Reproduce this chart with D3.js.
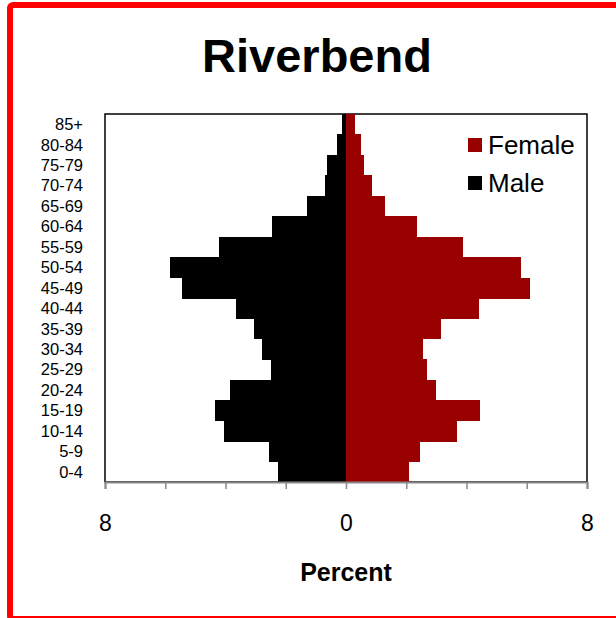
<!DOCTYPE html>
<html>
<head>
<meta charset="utf-8">
<script src="https://cdn.jsdelivr.net/npm/d3@7"></script>
<style>
  body { margin: 0; background: #fff; }
  svg { display: block; font-family: "Liberation Sans", Arial, sans-serif; }
</style>
</head>
<body>
<div id="chart"></div>
<script>
// Age groups, top to bottom
const ageGroups = ["85+", "80-84", "75-79", "70-74", "65-69", "60-64", "55-59", "50-54", "45-49",
    "40-44", "35-39", "30-34", "25-29", "20-24", "15-19", "10-14", "5-9", "0-4"];

// Percent of population in each group
const male = [0.12, 0.29, 0.63, 0.69, 1.29, 2.45, 4.2, 5.84, 5.43,
    3.65, 3.04, 2.8, 2.5, 3.84, 4.34, 4.04, 2.55, 2.25];
const female = [0.30, 0.50, 0.59, 0.85, 1.29, 2.35, 3.89, 5.8, 6.1,
    4.4, 3.14, 2.56, 2.7, 3.0, 4.46, 3.7, 2.47, 2.1];

const tickValues = [-8, -6, -4, -2, 0, 2, 4, 6, 8];
const labelledTicks = [-8, 0, 8];

const width = 616;
const height = 618;
const margin = { top: 114, right: 29, bottom: 136, left: 105 };

const svg = d3.select("#chart")
    .append("svg")
    .attr("width", width)
    .attr("height", height);

// Red frame round the picture
svg.append("rect")
    .attr("x", 10)
    .attr("y", 5)
    .attr("width", 700)
    .attr("height", 614)
    .attr("rx", 3)
    .attr("fill", "none")
    .attr("stroke", "#ff0000")
    .attr("stroke-width", 6);

const x = d3.scaleLinear()
    .domain([-8, 8])
    .range([margin.left, width - margin.right]);

const y = d3.scaleBand()
    .domain(ageGroups)
    .range([margin.top, height - margin.bottom])
    .padding(0);

// Title
svg.append("text")
    .attr("x", 317)
    .attr("y", 72)
    .attr("text-anchor", "middle")
    .attr("font-size", 47)
    .attr("font-weight", "bold")
    .text("Riverbend");

// Plot frame
svg.append("rect")
    .attr("x", x(-8))
    .attr("y", margin.top)
    .attr("width", x(8) - x(-8))
    .attr("height", y.range()[1] - margin.top)
    .attr("fill", "#fff")
    .attr("stroke", "#000")
    .attr("stroke-width", 1.5);

// Male bars (left side)
svg.selectAll(".male")
    .data(male)
    .enter()
    .append("rect")
    .attr("class", "male")
    .attr("x", d => x(-d))
    .attr("y", (d, i) => y(ageGroups[i]))
    .attr("width", d => x(0) - x(-d))
    .attr("height", y.bandwidth() + 0.5)
    .attr("shape-rendering", "crispEdges")
    .attr("fill", "#000");

// Female bars (right side)
svg.selectAll(".female")
    .data(female)
    .enter()
    .append("rect")
    .attr("class", "female")
    .attr("x", x(0))
    .attr("y", (d, i) => y(ageGroups[i]))
    .attr("width", d => x(d) - x(0))
    .attr("height", y.bandwidth() + 0.5)
    .attr("shape-rendering", "crispEdges")
    .attr("fill", "#990000");

// Age labels
svg.selectAll(".age")
    .data(ageGroups)
    .enter()
    .append("text")
    .attr("class", "age")
    .attr("x", 83)
    .attr("y", d => y(d) + y.bandwidth() / 2)
    .attr("dy", "0.36em")
    .attr("text-anchor", "end")
    .attr("font-size", 16.5)
    .text(d => d);

// X axis
const xAxis = svg.append("g")
    .attr("transform", `translate(0, ${y.range()[1]})`)
    .call(d3.axisBottom(x)
        .tickValues(tickValues)
        .tickSize(7)
        .tickFormat(d => labelledTicks.includes(d) ? Math.abs(d) : ""));

xAxis.select(".domain").attr("stroke", "#888").attr("stroke-width", 2);
xAxis.selectAll(".tick line").attr("stroke", "#888").attr("stroke-width", 1.5);
xAxis.selectAll(".tick text")
    .attr("font-size", 23)
    .attr("font-family", "Liberation Sans, Arial, sans-serif")
    .attr("fill", "#000")
    .attr("y", 33);

// X axis title
svg.append("text")
    .attr("x", x(0))
    .attr("y", 581)
    .attr("text-anchor", "middle")
    .attr("font-size", 25)
    .attr("font-weight", "bold")
    .text("Percent");

// Legend
const legendItems = [
    { label: "Female", color: "#990000" },
    { label: "Male", color: "#000" }
];
const legend = svg.selectAll(".legend")
    .data(legendItems)
    .enter()
    .append("g")
    .attr("class", "legend")
    .attr("transform", (d, i) => `translate(468, ${138 + i * 38})`);

legend.append("rect")
    .attr("width", 14)
    .attr("height", 14)
    .attr("fill", d => d.color);

legend.append("text")
    .attr("x", 20)
    .attr("y", 16)
    .attr("font-size", 26)
    .text(d => d.label);
</script>
</body>
</html>
